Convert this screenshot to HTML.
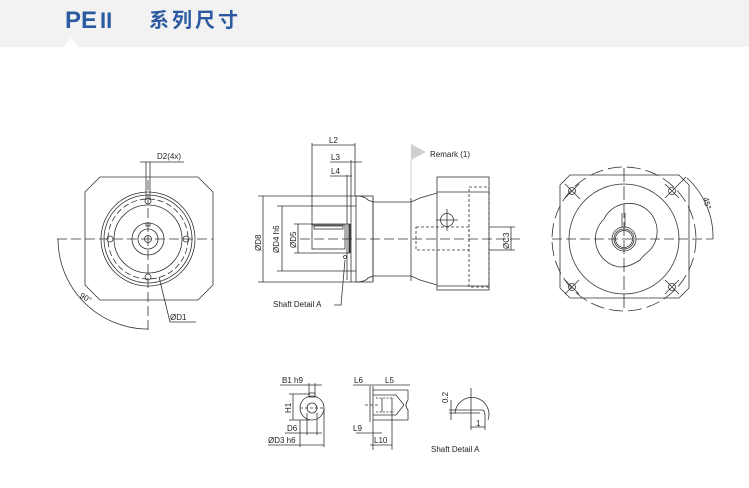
<!DOCTYPE html>
<html><head><meta charset="utf-8"><style>
html,body{margin:0;padding:0;background:#fff;}
body{width:749px;height:483px;overflow:hidden;position:relative;font-family:"Liberation Sans",sans-serif;}
svg text{font-family:"Liberation Sans","Noto Sans CJK SC",sans-serif;}
</style></head><body>
<svg width="749" height="483" viewBox="0 0 749 483" xmlns="http://www.w3.org/2000/svg">
<rect x="0" y="0" width="749" height="47" fill="#f2f2f2"/>
<polygon points="63,48 71,38 79,48" fill="#fff"/>
<text x="65" y="28" font-size="24" font-weight="bold" fill="#2b5aa0" font-family="Liberation Sans">PE</text>
<text x="100" y="28" font-size="22" font-weight="bold" fill="#2b5aa0" font-family="Liberation Serif">II</text>
<text x="149" y="27" font-size="20" font-weight="bold" fill="#2b5aa0" letter-spacing="3">系列尺寸</text>

<g fill="none" stroke="#333" stroke-width="0.8">
<!-- LEFT VIEW -->
<polygon points="100,177 198,177 213,192 213,285 198,300 100,300 85,285 85,192"/>
<circle cx="148" cy="239" r="47"/>
<circle cx="148" cy="239" r="44"/>
<circle cx="148" cy="239" r="40" stroke-dasharray="6,3"/>
<circle cx="148" cy="239" r="34"/>
<circle cx="148" cy="239" r="16"/>
<circle cx="148" cy="239" r="10"/>
<circle cx="148" cy="239" r="3.5"/>
<rect x="146" y="223" width="4" height="3"/>
<circle cx="148" cy="201" r="3"/><circle cx="148" cy="277" r="3"/>
<circle cx="110" cy="239" r="3"/><circle cx="186" cy="239" r="3"/>
<line x1="57" y1="239" x2="213" y2="239" stroke-dasharray="10,4"/>
<line x1="148" y1="180" x2="148" y2="330" stroke-dasharray="10,4"/>
<line x1="146" y1="162" x2="146" y2="200"/><line x1="150" y1="162" x2="150" y2="200"/>
<line x1="140" y1="162" x2="184" y2="162"/>
<path d="M58,239 A90,90 0 0 0 148,329"/>
<polyline points="159,277 170,322 196,322"/>
<!-- MIDDLE VIEW -->
<line x1="258" y1="196" x2="356" y2="196"/><line x1="258" y1="282" x2="356" y2="282"/>
<line x1="263" y1="196" x2="263" y2="282"/>
<line x1="277" y1="206" x2="356" y2="206"/><line x1="277" y1="271" x2="356" y2="271"/>
<line x1="282" y1="206" x2="282" y2="271"/>
<line x1="294" y1="224" x2="350" y2="224"/><line x1="294" y1="253" x2="350" y2="253"/>
<line x1="298" y1="224" x2="298" y2="253"/>
<rect x="312" y="225" width="33" height="24"/>
<rect x="314" y="226" width="29" height="3"/>
<line x1="349.5" y1="224" x2="349.5" y2="253" stroke-width="2"/>
<line x1="347" y1="175" x2="347" y2="280"/>
<line x1="351" y1="160" x2="351" y2="282"/>
<line x1="312" y1="143" x2="312" y2="225"/>
<line x1="355" y1="143" x2="355" y2="196"/>
<line x1="312" y1="145" x2="355" y2="145"/>
<line x1="330" y1="162" x2="362" y2="162"/>
<line x1="330" y1="176" x2="352" y2="176"/>
<rect x="356" y="196" width="17" height="86"/>
<path d="M356,196 Q365,196 368,200 L373,202 L411,202 L420,198 L437,193"/>
<path d="M356,282 Q365,282 368,278 L373,276 L411,276 L420,280 L437,285"/>
<line x1="373" y1="198" x2="373" y2="281"/><line x1="411" y1="198" x2="411" y2="281"/>
<rect x="437" y="177" width="52" height="113"/>
<line x1="437" y1="192" x2="489" y2="192"/><line x1="437" y1="286" x2="489" y2="286"/>
<rect x="469" y="187" width="20" height="100" stroke-dasharray="3,2"/>
<rect x="416" y="227" width="53" height="23" stroke-dasharray="3,2"/>
<circle cx="447" cy="220" r="6.5"/>
<line x1="436" y1="220" x2="458" y2="220"/><line x1="447" y1="209" x2="447" y2="231"/>
<line x1="300" y1="239" x2="520" y2="239" stroke-dasharray="10,4"/>
<line x1="489" y1="227" x2="515" y2="227"/><line x1="489" y1="250" x2="515" y2="250"/>
<line x1="511" y1="227" x2="511" y2="250"/>
<polyline points="334,305 341,305 345,260"/>
<circle cx="345" cy="257" r="1.5"/>
<line x1="411" y1="160" x2="411" y2="196" stroke="#ccc"/>
<!-- RIGHT VIEW -->
<polygon points="570,175 679,175 689,185 689,288 679,298 570,298 560,288 560,185"/>
<circle cx="624" cy="239" r="72" stroke-dasharray="14,5"/>
<circle cx="624" cy="239" r="55"/>
<path d="M604,219 A28,28 0 1 1 650,250 Q643,256 640,260 Q630,267 620,267 A28,28 0 0 1 604,219"/>
<circle cx="624" cy="239" r="12"/><circle cx="624" cy="239" r="10"/><circle cx="624" cy="239" r="8.5"/>
<line x1="622" y1="213" x2="622" y2="227"/><line x1="625" y1="213" x2="625" y2="227"/>
<line x1="552" y1="239" x2="713" y2="239" stroke-dasharray="10,4"/>
<line x1="624" y1="168" x2="624" y2="310" stroke-dasharray="14,4"/>
<g>
<circle cx="572" cy="191" r="3.5"/><circle cx="672" cy="191" r="3.5"/>
<circle cx="572" cy="287" r="3.5"/><circle cx="672" cy="287" r="3.5"/>
<line x1="565" y1="184" x2="580" y2="199"/><line x1="565" y1="198" x2="579" y2="184"/>
<line x1="665" y1="184" x2="679" y2="198"/><line x1="665" y1="198" x2="686" y2="177"/>
<line x1="565" y1="280" x2="579" y2="294"/><line x1="565" y1="294" x2="579" y2="280"/>
<line x1="665" y1="280" x2="679" y2="294"/><line x1="665" y1="294" x2="679" y2="280"/>
</g>
<path d="M687,178 A80,80 0 0 1 713,239"/>
<!-- BOTTOM: key detail -->
<circle cx="312" cy="408" r="12"/><circle cx="312" cy="408" r="5"/>
<rect x="309" y="393" width="6" height="4"/>
<line x1="280" y1="385" x2="322" y2="385"/>
<line x1="309" y1="383" x2="309" y2="396"/><line x1="315" y1="383" x2="315" y2="396"/>
<line x1="289" y1="394" x2="310" y2="394"/><line x1="289" y1="420" x2="310" y2="420"/>
<line x1="293" y1="394" x2="293" y2="420"/>
<line x1="300" y1="408" x2="324" y2="408" stroke-dasharray="3,2"/>
<line x1="300" y1="420" x2="300" y2="447"/><line x1="324" y1="408" x2="324" y2="447"/>
<line x1="307" y1="413" x2="307" y2="435"/><line x1="317" y1="413" x2="317" y2="435"/>
<line x1="285" y1="433" x2="322" y2="433"/>
<line x1="268" y1="445" x2="324" y2="445"/>
<!-- shaft section -->
<line x1="370" y1="386" x2="370" y2="422"/><line x1="373" y1="386" x2="373" y2="450"/>
<line x1="373" y1="390" x2="408" y2="390"/>
<line x1="373" y1="420" x2="408" y2="420"/>
<path d="M408,390 L408,400 Q404,405 408,410 L408,420"/>
<path d="M373,395 L396,395 L404,405 L396,415 L373,415" />
<path d="M376,398 L394,398 M376,412 L394,412" stroke-dasharray="2,1.5"/>
<line x1="382" y1="398" x2="382" y2="412"/>
<line x1="392" y1="398" x2="392" y2="450"/>
<line x1="353" y1="385" x2="410" y2="385"/>
<line x1="356" y1="433" x2="382" y2="433"/>
<line x1="370" y1="445" x2="392" y2="445"/>
<line x1="365" y1="405" x2="380" y2="405" stroke-dasharray="3,2"/>
<!-- shaft detail A -->
<path d="M455,413 A17,17 0 1 1 488,420"/>
<line x1="455" y1="413" x2="480" y2="413"/><line x1="455" y1="410" x2="482" y2="410"/>
<path d="M482,410 Q485,410 485,416 L485,420"/>
<line x1="471" y1="388" x2="471" y2="430"/><line x1="485" y1="420" x2="485" y2="430"/>
<line x1="449" y1="410" x2="456" y2="410"/><line x1="449" y1="413" x2="456" y2="413"/>
<line x1="451" y1="400" x2="451" y2="420"/>
<line x1="471" y1="427" x2="485" y2="427"/>
</g>
<polygon points="411,144 426,152 411,160" fill="#d0d0d0"/>
<g font-size="8" fill="#222">
<text x="157" y="159">D2(4x)</text>
<text x="170" y="320">ØD1</text>
<text x="80" y="300" transform="rotate(30 85 297)">90°</text>
<text x="329" y="143">L2</text>
<text x="331" y="160">L3</text>
<text x="331" y="174">L4</text>
<text x="430" y="157">Remark (1)</text>
<text x="273" y="307">Shaft Detail  A</text>
<text transform="translate(261,251) rotate(-90)">ØD8</text>
<text transform="translate(279,253) rotate(-90)">ØD4 h6</text>
<text transform="translate(296,248) rotate(-90)">ØD5</text>
<text transform="translate(509,249) rotate(-90)">ØC3</text>
<text transform="translate(703,198) rotate(75)">45°</text>
<text x="282" y="383">B1 h9</text>
<text transform="translate(291,413) rotate(-90)">H1</text>
<text x="287" y="431">D6</text>
<text x="268" y="443">ØD3 h6</text>
<text x="354" y="383">L6</text>
<text x="385" y="383">L5</text>
<text x="353" y="431">L9</text>
<text x="374" y="443">L10</text>
<text transform="translate(448,403) rotate(-90)">0.2</text>
<text x="476" y="426">1</text>
<text x="431" y="452">Shaft  Detail  A</text>
</g>
</svg>
</body></html>
